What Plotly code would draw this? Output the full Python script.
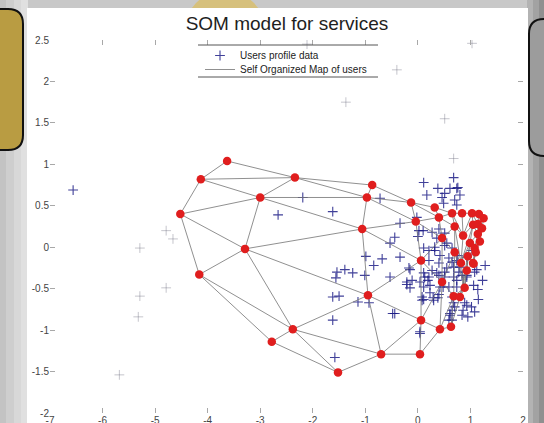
import plotly.graph_objects as go

# ---------------- data ----------------
x_ticks = [-7, -6, -5, -4, -3, -2, -1, 0, 1, 2]
x_tick_text = ["-7", "-6", "-5", "-4", "-3", "-2", "-1", "0", "1", "2"]
y_ticks = [-2, -1.5, -1, -0.5, 0, 0.5, 1, 1.5, 2, 2.5]
y_tick_text = ["-2", "-1.5", "-1", "-0.5", "0", "0.5", "1", "1.5", "2", "2.5"]

# users profile data (main body)
users_x = [
    -6.56, -2.19, -1.62, -0.72, -0.34, -0.44, -0.53, -0.34, -0.68, -0.84, -0.99, -1.24,
    -1.39, -1.54, -1.56, -1.01, -0.53, -0.15, -0.21, -0.15, -1.50, -1.62, -0.93, -1.14,
    -0.48, -1.62, -1.58, 0.04, 0.08, -2.66, -0.44,
    0.11, 0.38, 0.68, 0.51, 0.74, 0.70, 0.49, 0.61, 0.76, 0.46, 0.17, 0.80, 0.74,
    -0.02, 0.02, 0.00, 0.27, 0.40, 0.51, 0.36, 0.51, 0.11, 0.21, 0.32, 0.42, 0.59, 0.74,
    0.21, 0.40, 0.55, 0.68, 0.78, 0.27, 0.11, 0.21, 0.40, 0.51, 0.68, 0.84, 0.93, 1.06,
    0.23, 0.42, 0.59, 0.74, 0.23, 0.40, 0.11, 0.30, 0.65, 0.68, 0.65, 0.93, 0.84, 1.08,
    0.61, 0.59, -0.17, -0.11, -0.21, 0.04, 0.13, 0.11, 0.38, 0.10, 0.32, 0.55, 0.65, 0.76,
    0.93, 0.65, 0.80, 0.51, 0.36, 0.19, 0.74, 0.93, 0.48, 0.08, 0.29, 0.70, 0.61, 0.65,
    0.89, 0.95, 0.04, 1.14, 1.23, 1.28, 1.15, 0.86, 1.02, 1.12, 1.03, 1.08,
]
users_y = [
    0.69, 0.60, 0.43, 0.59, 0.29, 0.12, 0.05, -0.12, -0.14, -0.22, -0.11, -0.31,
    -0.27, -0.30, -0.37, -0.34, -0.36, -0.27, -0.42, -0.49, -0.59, -0.60, -0.67, -0.66,
    -0.80, -0.88, -1.33, -1.02, -0.64, 0.39, -0.80,
    0.78, 0.71, 0.84, 0.65, 0.71, 0.57, 0.53, 0.71, 0.72, 0.60, 0.63, 0.63, 0.51,
    0.36, 0.20, 0.13, 0.18, 0.22, 0.17, 0.11, 0.02, -0.01, -0.04, -0.04, -0.10, -0.13, -0.16,
    -0.16, -0.19, -0.25, -0.24, -0.30, -0.28, -0.31, -0.36, -0.34, -0.36, -0.36, -0.34, -0.34, -0.46,
    -0.46, -0.48, -0.48, -0.48, -0.55, -0.57, -0.63, -0.64, -0.60, -0.67, -0.76, -0.70, -0.82, -0.78,
    -0.82, -0.88, -0.25, -0.40, -0.45, -0.42, -0.36, -0.48, -0.61, 0.20, 0.00, 0.05, -0.01, -0.10,
    -0.12, -0.18, -0.24, -0.30, -0.31, -0.40, -0.40, -0.36, -0.48, -0.60, -0.61, -0.72, -0.80, -0.88,
    -0.67, -0.84, -1.04, -0.51, -0.40, -0.22, -0.63, -0.76, -0.72, -0.27, -0.04, -0.30,
]

# faint, partly washed-out profile points
faint_x = [-4.79, -4.66, -4.79, -5.29, -5.32, -5.68, -5.29, -2.11, -0.40, -1.37, 1.03, 0.51, 0.68]
faint_y = [0.20, 0.10, -0.49, -0.59, -0.84, -1.54, -0.01, 2.45, 2.14, 1.75, 2.46, 1.55, 1.07]

# SOM neuron weights: 10 lattice columns x 5 neurons each
som_x = [
    [-3.63, -4.13, -4.52, -4.16, -2.78],
    [-2.34, -3.00, -3.29, -2.38, -1.52],
    [-0.87, -0.97, -1.06, -0.95, -0.70],
    [-0.13, -0.04, 0.06, 0.06, 0.04],
    [0.32, 0.40, 0.46, 0.46, 0.42],
    [0.65, 0.70, 0.70, 0.68, 0.63],
    [0.84, 0.86, 0.82, 0.89, 0.80],
    [1.03, 1.05, 0.99, 0.95, 0.93],
    [1.16, 1.14, 1.14, 1.08, 1.05],
    [1.25, 1.22, 1.18, 1.10, 1.06],
]
som_y = [
    [1.04, 0.82, 0.40, -0.33, -1.14],
    [0.84, 0.60, -0.02, -0.99, -1.51],
    [0.75, 0.60, 0.22, -0.58, -1.29],
    [0.54, 0.31, -0.16, -0.88, -1.29],
    [0.48, 0.36, 0.11, -0.42, -0.99],
    [0.41, 0.25, -0.06, -0.59, -0.96],
    [0.41, 0.14, -0.19, -0.49, -0.60],
    [0.41, 0.27, 0.05, -0.11, -0.28],
    [0.40, 0.28, 0.16, -0.01, -0.19],
    [0.35, 0.23, 0.07, -0.06, -0.20],
]

# ---------------- hexagonal neighbourhood of the map ----------------
n_cols = len(som_x)
n_rows = len(som_x[0])
links = []
for c in range(n_cols):
    for k in range(n_rows - 1):
        links.append(((c, k), (c, k + 1)))
for c in range(n_cols - 1):
    for k in range(n_rows):
        links.append(((c + 1, k), (c, k)))
        if c % 2 == 0 and k + 1 < n_rows:
            links.append(((c + 1, k), (c, k + 1)))
        if c % 2 == 1 and k - 1 >= 0:
            links.append(((c + 1, k), (c, k - 1)))

edge_x, edge_y = [], []
for (c1, k1), (c2, k2) in links:
    edge_x += [som_x[c1][k1], som_x[c2][k2], None]
    edge_y += [som_y[c1][k1], som_y[c2][k2], None]

node_x = [v for col in som_x for v in col]
node_y = [v for col in som_y for v in col]

# ---------------- page geometry (pixels) ----------------
W, H = 544, 423
AX_L, AX_R, AX_T, AX_B = 50, 523, 40, 413


def px(x):
    return (x - AX_L) / (AX_R - AX_L)


def py(y):
    return (AX_B - y) / (AX_B - AX_T)


def rect(x0, y0, x1, y1, color):
    return dict(type="rect", xref="paper", yref="paper", layer="below",
                x0=px(x0), x1=px(x1), y0=py(y1), y1=py(y0),
                fillcolor=color, line=dict(width=0))


def rounded_path(x0, y0, x1, y1, r):
    pts = [
        ("M", [(x0 + r, y0)]),
        ("L", [(x1 - r, y0)]),
        ("Q", [(x1, y0), (x1, y0 + r)]),
        ("L", [(x1, y1 - r)]),
        ("Q", [(x1, y1), (x1 - r, y1)]),
        ("L", [(x0 + r, y1)]),
        ("Q", [(x0, y1), (x0, y1 - r)]),
        ("L", [(x0, y0 + r)]),
        ("Q", [(x0, y0), (x0 + r, y0)]),
    ]
    s = ""
    for cmd, plist in pts:
        s += cmd + " " + " ".join(f"{px(a):.5f},{py(b):.5f}" for a, b in plist) + " "
    return s + "Z"


shapes = []
# slide background bands
for x0, x1, col in [(0, 6, "#c3c3c3"), (6, 14, "#cecece"), (14, 21, "#d8d8d8"), (21, 28, "#e0e0e0")]:
    shapes.append(rect(x0, 0, x1, H, col))
for x0, x1, col in [(527, 533, "#b3b3b3"), (533, 539, "#a2a2a2"), (539, 545, "#909090")]:
    shapes.append(rect(x0, 0, x1, H, col))
# decorative shapes of the slide
shapes.append(dict(type="circle", xref="paper", yref="paper", layer="below",
                   x0=px(184), x1=px(266), y0=py(73), y1=py(-9),
                   fillcolor="#d6c07c", line=dict(width=0)))
shapes.append(dict(type="path", xref="paper", yref="paper", layer="below",
                   path=rounded_path(-60, 9, 23, 150, 15),
                   fillcolor="#b99c42", line=dict(color="#111111", width=2)))
shapes.append(dict(type="path", xref="paper", yref="paper", layer="below",
                   path=rounded_path(529, 19, 620, 156, 15),
                   fillcolor="#9c9c9c", line=dict(color="#111111", width=2)))
# white figure panel
shapes.append(rect(27, 8, 528, H + 10, "#ffffff"))
# legend frame (top and bottom rules)
for yy in (45, 77):
    shapes.append(dict(type="line", xref="paper", yref="paper", layer="above",
                       x0=px(198), x1=px(378), y0=py(yy), y1=py(yy),
                       line=dict(color="#555555", width=1)))

fig = go.Figure()

fig.add_trace(go.Scatter(
    x=faint_x, y=faint_y, mode="markers", showlegend=False, hoverinfo="skip",
    marker=dict(symbol="cross-thin", size=7,
                line=dict(color="rgba(90,90,110,0.35)", width=1)),
))
fig.add_trace(go.Scatter(
    x=users_x, y=users_y, mode="markers", name="Users profile data",
    legend="legend",
    marker=dict(symbol="cross-thin", size=7,
                line=dict(color="rgba(22,22,130,0.82)", width=1.1)),
))
fig.add_trace(go.Scatter(
    x=edge_x, y=edge_y, mode="lines", name="Self Organized Map of users",
    legend="legend2",
    line=dict(color="#747474", width=0.8),
))
fig.add_trace(go.Scatter(
    x=node_x, y=node_y, mode="markers", showlegend=False,
    marker=dict(symbol="circle", size=8.5, color="#e01e1e", line=dict(width=0)),
))

axis_common = dict(
    showgrid=False, zeroline=False, showline=False,
    ticks="inside", ticklen=5, tickwidth=1, tickcolor="#a8a8a8",
    mirror="ticks", automargin=False,
    tickfont=dict(family="Liberation Sans, Arial, sans-serif", size=10, color="#444444"),
)

legend_common = dict(
    xref="paper", yref="paper", xanchor="left", yanchor="top",
    bgcolor="rgba(0,0,0,0)", borderwidth=0,
    font=dict(family="Liberation Sans, Arial, sans-serif", size=10, color="#222222"),
)

fig.update_layout(
    width=W, height=H,
    margin=dict(l=AX_L, r=W - AX_R, t=AX_T, b=H - AX_B, autoexpand=False),
    paper_bgcolor="#c8c8c8",
    plot_bgcolor="rgba(0,0,0,0)",
    template="none",
    shapes=shapes,
    title=dict(text="SOM model for services", x=px(287), xref="paper",
               y=1 - 23 / H, yref="container", xanchor="center", yanchor="middle",
               font=dict(family="Liberation Sans, Arial, sans-serif", size=19, color="#1e1e1e")),
    xaxis=dict(range=[-7, 2], tickvals=x_ticks, ticktext=x_tick_text, **axis_common),
    yaxis=dict(range=[-2, 2.5], tickvals=y_ticks, ticktext=y_tick_text, **axis_common),
    legend=dict(x=px(200), y=py(41), **legend_common),
    legend2=dict(x=px(200), y=py(55), **legend_common),
)

fig.write_html("out.html")
